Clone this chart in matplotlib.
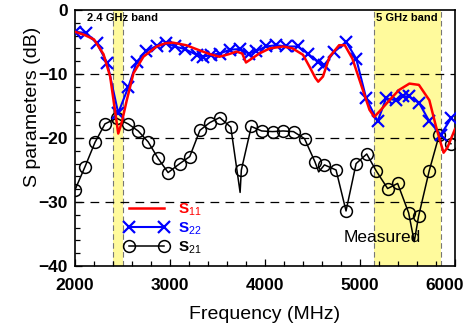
import matplotlib
matplotlib.use('Agg')
import matplotlib.pyplot as plt
import matplotlib.transforms as mtransforms
from matplotlib.ticker import MultipleLocator

plt.rcParams['font.family'] = ['Liberation Sans', 'DejaVu Sans']
plt.rcParams['mathtext.fontset'] = 'custom'
plt.rcParams['mathtext.rm'] = 'Liberation Sans'
plt.rcParams['mathtext.bf'] = 'Liberation Sans:bold'

# S11 (red, line only)
f11 = [2000, 2100, 2200, 2300, 2370, 2420, 2455, 2490, 2545, 2615, 2720, 2860,
       2950, 3030, 3170, 3310, 3420, 3520, 3620, 3700, 3760, 3800, 3840, 3940,
       4050, 4190, 4290, 4400, 4470, 4530, 4560, 4610, 4680, 4780, 4840, 4920,
       5030, 5100, 5150, 5220, 5310, 5410, 5520, 5620, 5730, 5800, 5850, 5880,
       5920, 6000]
s11 = [-3.4, -3.9, -4.6, -6.9, -10.4, -15.6, -19.3, -17.7, -14.1, -9.9, -7.3, -5.7,
       -5.2, -5.1, -5.5, -6.3, -6.9, -7.3, -6.9, -6.5, -6.8, -8.2, -7.8, -6.8,
       -6.0, -5.7, -6.0, -7.0, -8.9, -10.6, -11.2, -10.4, -7.3, -5.5, -5.5, -7.6,
       -12.5, -15.6, -16.7, -15.6, -14.1, -12.5, -11.5, -11.7, -14.1, -18.2, -20.8, -22.3,
       -21.5, -18.6]

# S22 (blue, x markers)
f22 = [2000, 2120, 2230, 2340, 2455, 2560, 2650, 2750, 2860, 2960, 3050, 3155,
       3280, 3350, 3435, 3525, 3630, 3735, 3830, 3910, 4010, 4120, 4220, 4345,
       4450, 4555, 4625, 4730, 4855, 4960, 5065, 5185, 5275, 5380, 5450, 5520,
       5625, 5730, 5850, 5960]
s22 = [-3.4, -3.6, -5.2, -8.3, -16.1, -12.1, -8.1, -6.4, -5.6, -5.2, -5.7, -6.1,
       -7.0, -7.3, -7.0, -6.8, -6.2, -6.1, -6.8, -6.4, -5.7, -5.5, -5.7, -5.7,
       -6.8, -8.1, -8.6, -6.5, -5.0, -7.6, -13.8, -17.4, -13.8, -14.1, -13.5, -13.5,
       -14.6, -17.4, -19.5, -16.9]

# S21 (black, circle markers; a few line points carry no marker)
f21 = [2000, 2105, 2210, 2315, 2437, 2560, 2665, 2770, 2875, 2980, 3103, 3208,
       3315, 3418, 3523, 3640, 3738, 3751, 3856, 3965, 4080, 4190, 4300, 4416,
       4525, 4565, 4626, 4748, 4853, 4959, 5071, 5169, 5291, 5396, 5512, 5571,
       5617, 5729, 5834, 5957]
s21 = [-28.1, -24.5, -20.7, -17.8, -16.9, -17.8, -18.9, -20.6, -23.2, -25.4, -24.0, -22.9,
       -18.8, -17.6, -16.8, -18.3, -28.5, -25.0, -18.2, -18.9, -19.0, -18.9, -19.0, -20.1,
       -23.7, -25.3, -24.2, -25.0, -31.4, -24.0, -22.5, -25.1, -27.9, -27.1, -31.7, -36.2,
       -32.2, -25.1, -19.5, -20.9]
no_marker = [3738, 4565, 5571]

bands = [(2400, 2500), (5150, 5850)]
band_labels = ['2.4 GHz band', '5 GHz band']

fig = plt.figure(figsize=(4.65, 3.26), dpi=100)
ax = fig.add_axes([75 / 465, 60 / 326, 380 / 465, 256 / 326])

for (lo, hi) in bands:
    ax.axvspan(lo, hi, color='#fffa9c', zorder=0, lw=0)
    for edge in (lo, hi):
        ax.axvline(edge, color='#777777', ls=(0, (5, 3)), lw=0.8, zorder=1)

for y in (-10, -20, -30):
    ax.axhline(y, color='black', ls=(0, (7, 5)), lw=0.9, zorder=1)

ax.plot(f11, s11, color='red', lw=1.8, label='S$_{11}$', zorder=4)
ax.plot(f22, s22, color='blue', lw=1.5, marker='x', ms=9, mew=1.6,
        label='S$_{22}$', zorder=3)
marks = [i for i, f in enumerate(f21) if f not in no_marker]
ax.plot(f21, s21, color='black', lw=1.1, marker='o', ms=8.5, mfc='none', mew=1.1,
        markevery=marks, label='S$_{21}$', zorder=2)

ax.set_xlim(2000, 6000)
ax.set_ylim(-40, 0)
ax.xaxis.set_major_locator(MultipleLocator(1000))
ax.xaxis.set_minor_locator(MultipleLocator(200))
ax.yaxis.set_major_locator(MultipleLocator(10))
ax.yaxis.set_minor_locator(MultipleLocator(2))
ax.tick_params(which='both', direction='in', top=False, right=False, width=0.9)
ax.tick_params(which='major', length=5)
ax.tick_params(which='minor', length=3.5)
ax.tick_params(axis='x', pad=9)
ax.tick_params(axis='y', pad=5)
for lab in ax.get_xticklabels() + ax.get_yticklabels():
    lab.set_fontsize(12.5)
    lab.set_fontweight('bold')

for sp in ax.spines.values():
    sp.set_linewidth(1.2)

ax.set_xlabel('Frequency (MHz)', fontsize=14, labelpad=9)
ax.set_ylabel('S parameters (dB)', fontsize=14)
ax.yaxis.set_label_coords(-0.09, 0.62)

ax.text(2130, -1.3, band_labels[0], fontsize=8, fontweight='bold', va='center')
ax.text(5165, -1.3, band_labels[1], fontsize=8, fontweight='bold', va='center')
ax.text(5230, -35.6, 'Measured', fontsize=12.5, ha='center', va='center', zorder=5)

leg = ax.legend(loc='center left', bbox_to_anchor=(0.094, 0.145), frameon=False,
                numpoints=2, handlelength=2.9, handletextpad=0.6, labelspacing=0.15,
                prop={'size': 11, 'weight': 'bold'})
for txt, c in zip(leg.get_texts(), ['red', 'blue', 'black']):
    txt.set_color(c)

# keep the 6000 label inside the figure
fig.canvas.draw()
for tick in ax.xaxis.get_major_ticks():
    if abs(tick.get_loc() - 6000) < 1:
        lab = tick.label1
        lab.set_transform(lab.get_transform() +
                          mtransforms.ScaledTranslation(-10 / 100, 0, fig.dpi_scale_trans))

fig.savefig('out.png', dpi=100)
